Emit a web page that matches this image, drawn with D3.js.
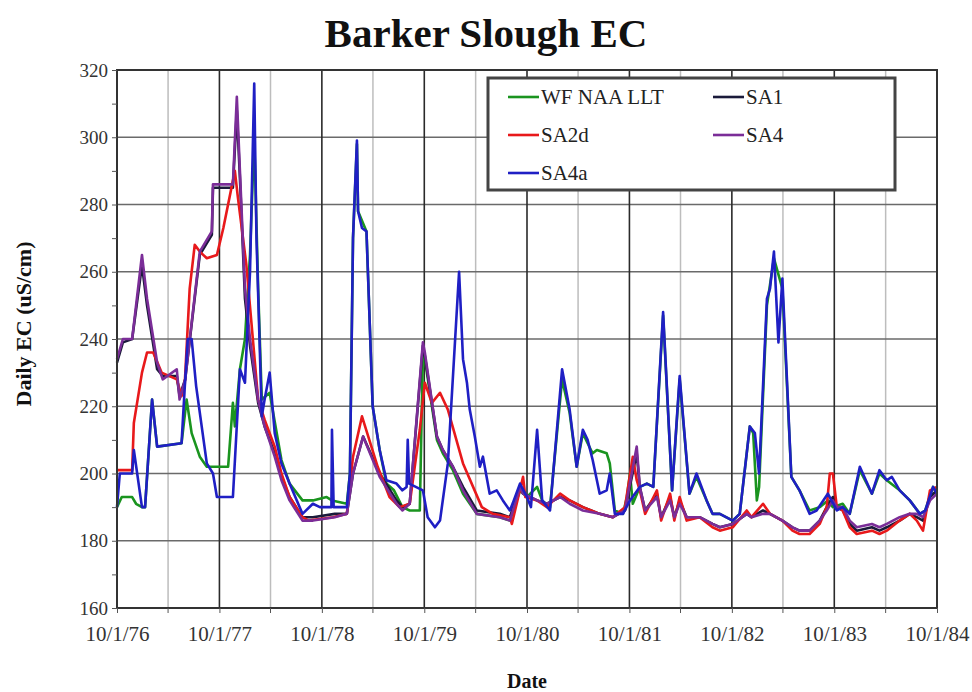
<!DOCTYPE html>
<html><head><meta charset="utf-8">
<script src="https://cdn.jsdelivr.net/npm/d3@7"></script>
<style>body{margin:0;background:#fff}</style>
</head><body>
<svg id="c" width="972" height="692"></svg>
<script>
const title = "Barker Slough EC";
const yLabel = "Daily EC (uS/cm)";
const xLabel = "Date";
const xTickLabels = ["10/1/76","10/1/77","10/1/78","10/1/79","10/1/80","10/1/81","10/1/82","10/1/83","10/1/84"];
const yTicks = [160,180,200,220,240,260,280,300,320];
const seriesNames = ["WF NAA LLT","SA1","SA2d","SA4","SA4a"];
const seriesColors = ["#1a941f","#1a1a3a","#e8191b","#7b2d98","#1f1fc4"];

const wfNaaLlt = [
["1976-10-01",190],["1976-10-18",193],["1976-11-24",193],["1976-12-08",191],["1976-12-29",190],["1977-01-09",190],
["1977-02-03",222],["1977-02-21",208],["1977-05-19",209],["1977-06-06",222],["1977-06-24",212],["1977-07-23",205],
["1977-08-17",202],["1977-11-01",202],["1977-11-18",221],["1977-11-25",214],["1977-12-13",231],["1977-12-31",240],
["1978-01-18",265],["1978-02-02",300],["1978-02-16",255],["1978-03-01",222],["1978-03-29",224],["1978-05-10",204],
["1978-06-08",197],["1978-07-24",192],["1978-08-30",192],["1978-10-18",193],["1978-11-06",192],["1978-12-29",191],
["1979-01-09",200],["1979-01-20",270],["1979-02-03",298],["1979-02-07",278],["1979-03-09",272],["1979-03-31",220],
["1979-04-25",207],["1979-05-19",197],["1979-06-15",195],["1979-07-15",190],["1979-08-10",189],["1979-09-15",189],
["1979-09-26",236],["1979-10-03",234],["1979-11-15",210],["1979-12-06",206],["1980-01-11",201],["1980-02-16",194],
["1980-04-05",188],["1980-06-26",187],["1980-08-01",186],["1980-09-06",195],["1980-10-01",193],["1980-11-06",196],
["1980-11-24",192],["1980-12-22",190],["1981-02-03",228],["1981-03-02",218],["1981-03-27",202],["1981-04-18",212],
["1981-05-05",209],["1981-05-23",206],["1981-06-07",207],["1981-07-12",206],["1981-07-23",203],["1981-08-10",189],
["1981-09-08",188],["1981-09-22",193],["1981-10-03",200],["1981-10-13",191],["1981-11-07",196],["1981-12-02",197],
["1981-12-25",196],["1982-01-29",247],["1982-03-02",195],["1982-03-29",228],["1982-05-03",194],["1982-05-28",199],
["1982-07-03",192],["1982-07-24",188],["1982-08-19",188],["1982-10-04",186],["1982-10-29",188],["1982-12-04",214],
["1982-12-16",212],["1982-12-29",192],["1983-01-06",196],["1983-02-03",250],["1983-02-28",264],["1983-03-30",255],
["1983-05-01",199],["1983-05-30",195],["1983-07-05",189],["1983-08-10",190],["1983-09-08",192],["1983-09-26",190],
["1983-10-31",191],["1983-11-25",188],["1983-12-31",201],["1984-02-12",194],["1984-03-10",200],["1984-04-05",198],
["1984-05-21",195],["1984-06-26",192],["1984-08-01",188],["1984-08-20",189],["1984-09-17",196],["1984-10-01",194]
];

const sa1 = [
["1976-10-01",233],["1976-10-22",239],["1976-11-24",240],["1976-12-29",262],["1977-01-16",250],["1977-02-21",231],
["1977-03-13",229],["1977-05-02",229],["1977-05-12",223],["1977-06-01",228],["1977-07-23",265],["1977-09-04",271],
["1977-09-08",285],["1977-11-18",285],["1977-12-02",308],["1977-12-13",288],["1977-12-31",252],["1978-01-18",238],
["1978-02-16",221],["1978-03-11",214],["1978-04-16",206],["1978-05-10",199],["1978-06-08",193],["1978-07-24",187],
["1978-08-30",187],["1978-11-16",188],["1978-12-29",188],["1979-01-20",200],["1979-02-25",211],["1979-04-25",200],
["1979-06-24",192],["1979-07-15",190],["1979-08-10",191],["1979-09-26",238],["1979-10-03",235],["1979-11-15",211],
["1979-12-06",207],["1980-01-11",202],["1980-02-16",196],["1980-04-05",189],["1980-06-26",188],["1980-08-01",187],
["1980-09-06",196],["1980-09-17",194],["1980-11-06",192],["1980-12-11",191],["1981-01-27",193],["1981-03-02",192],
["1981-04-18",190],["1981-06-17",188],["1981-08-03",187],["1981-09-15",189],["1981-10-27",206],["1981-11-07",196],
["1981-11-26",189],["1982-01-07",194],["1982-01-22",187],["1982-02-23",193],["1982-03-10",187],["1982-03-29",192],
["1982-04-23",187],["1982-06-08",187],["1982-07-24",185],["1982-08-19",184],["1982-10-04",185],["1982-11-23",188],
["1982-12-10",187],["1983-01-20",189],["1983-02-14",188],["1983-03-30",186],["1983-05-05",184],["1983-05-30",183],
["1983-07-05",183],["1983-08-10",186],["1983-09-04",190],["1983-09-26",193],["1983-10-10",190],["1983-10-31",189],
["1983-11-25",185],["1983-12-20",183],["1984-02-12",184],["1984-03-10",183],["1984-04-05",184],["1984-05-21",186],
["1984-06-26",188],["1984-07-21",187],["1984-08-12",186],["1984-09-06",193],["1984-10-01",195]
];

const sa2d = [
["1976-10-01",201],["1976-11-24",201],["1976-11-30",215],["1976-12-29",230],["1977-01-16",236],["1977-02-07",236],
["1977-03-09",230],["1977-05-02",228],["1977-05-19",223],["1977-05-30",226],["1977-06-17",255],["1977-07-05",268],
["1977-07-23",266],["1977-08-17",264],["1977-09-22",265],["1977-10-15",273],["1977-11-25",290],["1977-12-06",282],
["1978-01-05",262],["1978-02-16",222],["1978-03-11",216],["1978-04-16",208],["1978-05-10",200],["1978-06-08",193],
["1978-07-24",187],["1978-08-15",186],["1978-11-09",187],["1978-12-29",188],["1979-01-20",205],["1979-02-21",217],
["1979-04-18",202],["1979-05-30",193],["1979-07-05",190],["1979-08-10",191],["1979-09-15",213],["1979-10-03",227],
["1979-10-28",221],["1979-11-26",224],["1979-12-24",219],["1980-02-16",203],["1980-04-23",190],["1980-06-01",188],
["1980-08-01",187],["1980-08-08",185],["1980-09-17",199],["1980-09-25",193],["1980-11-06",192],["1980-12-11",190],
["1981-01-27",194],["1981-03-02",192],["1981-04-18",190],["1981-06-17",188],["1981-08-03",187],["1981-09-15",190],
["1981-10-13",205],["1981-10-27",198],["1981-11-07",195],["1981-11-26",188],["1982-01-07",195],["1982-01-22",186],
["1982-02-23",194],["1982-03-10",186],["1982-03-29",193],["1982-04-23",186],["1982-06-08",187],["1982-07-24",184],
["1982-08-19",183],["1982-10-04",184],["1982-11-23",189],["1982-12-10",187],["1983-01-20",191],["1983-02-14",188],
["1983-03-30",186],["1983-05-05",183],["1983-05-30",182],["1983-07-05",182],["1983-08-10",185],["1983-09-04",190],
["1983-09-15",200],["1983-09-26",200],["1983-10-10",190],["1983-10-31",189],["1983-11-25",184],["1983-12-20",182],
["1984-02-12",183],["1984-03-10",182],["1984-04-05",183],["1984-05-21",186],["1984-06-26",188],["1984-07-21",186],
["1984-08-12",183],["1984-09-06",195],["1984-10-01",196]
];

const sa4 = [
["1976-10-01",234],["1976-10-22",240],["1976-11-24",240],["1976-12-29",265],["1977-01-16",252],["1977-02-21",233],
["1977-03-13",228],["1977-05-02",231],["1977-05-12",222],["1977-06-01",228],["1977-07-23",266],["1977-09-04",272],
["1977-09-08",286],["1977-11-18",286],["1977-12-02",312],["1977-12-13",290],["1977-12-31",255],["1978-01-18",240],
["1978-02-16",222],["1978-03-11",214],["1978-04-16",205],["1978-05-10",198],["1978-06-08",192],["1978-07-24",186],
["1978-08-30",186],["1978-11-16",187],["1978-12-29",188],["1979-01-20",200],["1979-02-25",211],["1979-04-25",199],
["1979-06-24",191],["1979-07-15",189],["1979-08-10",191],["1979-09-26",239],["1979-10-03",236],["1979-11-15",211],
["1979-12-06",207],["1980-01-11",202],["1980-02-16",195],["1980-04-05",188],["1980-06-26",187],["1980-08-01",186],
["1980-09-06",196],["1980-09-17",194],["1980-11-06",192],["1980-12-11",191],["1981-01-27",193],["1981-03-02",191],
["1981-04-18",189],["1981-06-17",188],["1981-08-03",187],["1981-09-15",189],["1981-10-27",208],["1981-11-07",196],
["1981-11-26",189],["1982-01-07",193],["1982-01-22",187],["1982-02-23",192],["1982-03-10",187],["1982-03-29",191],
["1982-04-23",187],["1982-06-08",187],["1982-07-24",185],["1982-08-19",184],["1982-10-04",185],["1982-11-23",188],
["1982-12-10",187],["1983-01-20",188],["1983-02-14",188],["1983-03-30",186],["1983-05-05",184],["1983-05-30",183],
["1983-07-05",183],["1983-08-10",186],["1983-09-04",189],["1983-09-26",192],["1983-10-10",190],["1983-10-31",190],
["1983-11-25",186],["1983-12-20",184],["1984-02-12",185],["1984-03-10",184],["1984-04-05",185],["1984-05-21",187],
["1984-06-26",188],["1984-07-21",188],["1984-08-12",187],["1984-09-06",192],["1984-10-01",194]
];

const sa4a = [
["1976-10-01",190],["1976-10-11",200],["1976-11-24",200],["1976-11-30",207],["1976-12-29",190],["1977-01-09",190],
["1977-02-03",222],["1977-02-21",208],["1977-05-19",209],["1977-05-30",225],["1977-06-10",240],["1977-06-24",240],
["1977-07-10",226],["1977-08-17",203],["1977-09-08",200],["1977-09-22",193],["1977-11-18",193],["1977-12-13",231],
["1977-12-31",227],["1978-01-18",260],["1978-02-02",316],["1978-02-10",270],["1978-03-01",217],["1978-03-11",222],
["1978-03-29",230],["1978-04-16",212],["1978-05-10",203],["1978-06-08",197],["1978-07-24",188],["1978-08-30",191],
["1978-09-24",190],["1978-11-04",190],["1978-11-06",213],["1978-11-12",190],["1978-12-29",190],["1979-01-09",200],
["1979-01-20",270],["1979-02-03",299],["1979-02-07",278],["1979-02-21",273],["1979-03-09",272],["1979-03-31",220],
["1979-04-25",207],["1979-05-19",198],["1979-06-24",197],["1979-07-15",195],["1979-07-30",196],["1979-08-03",210],
["1979-08-08",197],["1979-09-26",195],["1979-10-13",187],["1979-11-08",184],["1979-11-26",186],["1979-12-24",203],
["1980-02-02",260],["1980-02-16",234],["1980-03-01",227],["1980-03-11",219],["1980-03-29",211],["1980-04-16",202],
["1980-04-27",205],["1980-05-21",194],["1980-06-15",195],["1980-07-07",192],["1980-08-01",189],["1980-08-15",192],
["1980-09-06",197],["1980-10-01",193],["1980-10-15",190],["1980-11-06",213],["1980-11-24",192],["1980-12-22",189],
["1981-02-03",231],["1981-03-02",219],["1981-03-27",202],["1981-04-18",213],["1981-05-05",210],["1981-05-23",204],
["1981-06-17",194],["1981-07-12",195],["1981-07-23",200],["1981-08-10",188],["1981-09-08",188],["1981-10-03",192],
["1981-11-07",196],["1981-12-02",197],["1981-12-25",196],["1982-01-29",248],["1982-03-02",195],["1982-03-29",229],
["1982-05-03",194],["1982-05-28",200],["1982-07-03",192],["1982-07-24",188],["1982-08-19",188],["1982-10-04",186],
["1982-10-29",188],["1982-12-04",214],["1982-12-22",212],["1983-01-06",200],["1983-02-03",252],["1983-02-14",255],
["1983-02-28",266],["1983-03-16",239],["1983-03-30",258],["1983-05-01",199],["1983-05-30",195],["1983-07-05",188],
["1983-07-30",189],["1983-09-08",194],["1983-10-10",189],["1983-10-31",190],["1983-11-25",188],["1983-12-31",202],
["1984-02-12",194],["1984-03-10",201],["1984-04-05",198],["1984-04-23",199],["1984-05-21",195],["1984-06-26",192],
["1984-08-01",188],["1984-08-20",189],["1984-09-17",196],["1984-10-01",194]
];

const allSeries = [wfNaaLlt, sa1, sa2d, sa4, sa4a];

const svg = d3.select("#c");
const m = {left:117, right:937, top:70, bottom:608};
const serif = "Liberation Serif, Times New Roman, serif";
const parse = d3.timeParse("%Y-%m-%d");
const x = d3.scaleTime().domain([parse("1976-10-01"), parse("1984-10-01")]).range([m.left, m.right]);
const y = d3.scaleLinear().domain([160,320]).range([m.bottom, m.top]);

const yearDates = d3.range(0, 9).map(i => parse((1976+i)+"-10-01"));
const halfDates = d3.range(0, 8).map(i => parse((1977+i)+"-04-01"));

svg.append("g").selectAll("line").data(halfDates).join("line")
  .attr("x1", d=>x(d)).attr("x2", d=>x(d)).attr("y1", m.top).attr("y2", m.bottom)
  .attr("stroke", "#bdbdbd").attr("stroke-width", 1.5);
svg.append("g").selectAll("line").data(yTicks).join("line")
  .attr("x1", m.left).attr("x2", m.right).attr("y1", d=>y(d)).attr("y2", d=>y(d))
  .attr("stroke", "#6a6a6a").attr("stroke-width", 1.5);
svg.append("g").selectAll("line").data(yearDates).join("line")
  .attr("x1", d=>x(d)).attr("x2", d=>x(d)).attr("y1", m.top).attr("y2", m.bottom)
  .attr("stroke", "#2a2a2a").attr("stroke-width", 1.6);

const line = d3.line().x(d=>x(parse(d[0]))).y(d=>y(d[1]));
allSeries.forEach((s, i) => {
  svg.append("path").datum(s).attr("d", line).attr("fill","none")
    .attr("stroke", seriesColors[i]).attr("stroke-width", 2.6)
    .attr("stroke-linejoin","round");
});

svg.append("rect").attr("x", m.left).attr("y", m.top).attr("width", m.right-m.left).attr("height", m.bottom-m.top)
  .attr("fill","none").attr("stroke","#333").attr("stroke-width",2);

const yAxis = d3.axisLeft(y).tickValues(d3.range(160,321,10)).tickSize(5)
  .tickFormat(d => yTicks.includes(d) ? d : "");
const gy = svg.append("g").attr("transform",`translate(${m.left},0)`).call(yAxis);
gy.select(".domain").remove();
gy.selectAll("line").attr("stroke","#555");
gy.selectAll("text").attr("font-family",serif).attr("font-size",19).attr("fill","#333").attr("x",-9);

const xAxis = d3.axisBottom(x).tickValues(yearDates).tickSize(5)
  .tickFormat((d,i) => xTickLabels[i]);
const gx = svg.append("g").attr("transform",`translate(0,${m.bottom})`).call(xAxis);
gx.select(".domain").remove();
gx.selectAll("line").attr("stroke","#555");
gx.selectAll("text").attr("font-family",serif).attr("font-size",21).attr("fill","#333")
  .attr("y",33).attr("dy",0);
svg.append("g").selectAll("line").data(halfDates).join("line")
  .attr("x1", d=>x(d)).attr("x2", d=>x(d)).attr("y1", m.bottom).attr("y2", m.bottom+5).attr("stroke","#555");

svg.append("text").attr("x", 486).attr("y", 47).attr("text-anchor","middle")
  .attr("font-family",serif).attr("font-weight","bold").attr("font-size",41).attr("fill","#111").text(title);
svg.append("text").attr("x", 527).attr("y", 688).attr("text-anchor","middle")
  .attr("font-family",serif).attr("font-weight","bold").attr("font-size",20).attr("fill","#111").text(xLabel);
svg.append("text").attr("transform","translate(31,324) rotate(-90)").attr("text-anchor","middle")
  .attr("font-family",serif).attr("font-weight","bold").attr("font-size",22).attr("fill","#111").text(yLabel);

const lg = svg.append("g");
lg.append("rect").attr("x",488).attr("y",78).attr("width",407).attr("height",112)
  .attr("fill","#fff").attr("stroke","#444").attr("stroke-width",3);
const legPos = [[508,97],[713,97],[508,135],[713,135],[508,173]];
seriesNames.forEach((n,i) => {
  const [lx,ly] = legPos[i];
  lg.append("line").attr("x1",lx).attr("x2",lx+31).attr("y1",ly).attr("y2",ly)
    .attr("stroke",seriesColors[i]).attr("stroke-width",2.6);
  lg.append("text").attr("x",lx+33).attr("y",ly+7).attr("font-family",serif)
    .attr("font-size",21).attr("fill","#222").text(n);
});
</script>
</body></html>
